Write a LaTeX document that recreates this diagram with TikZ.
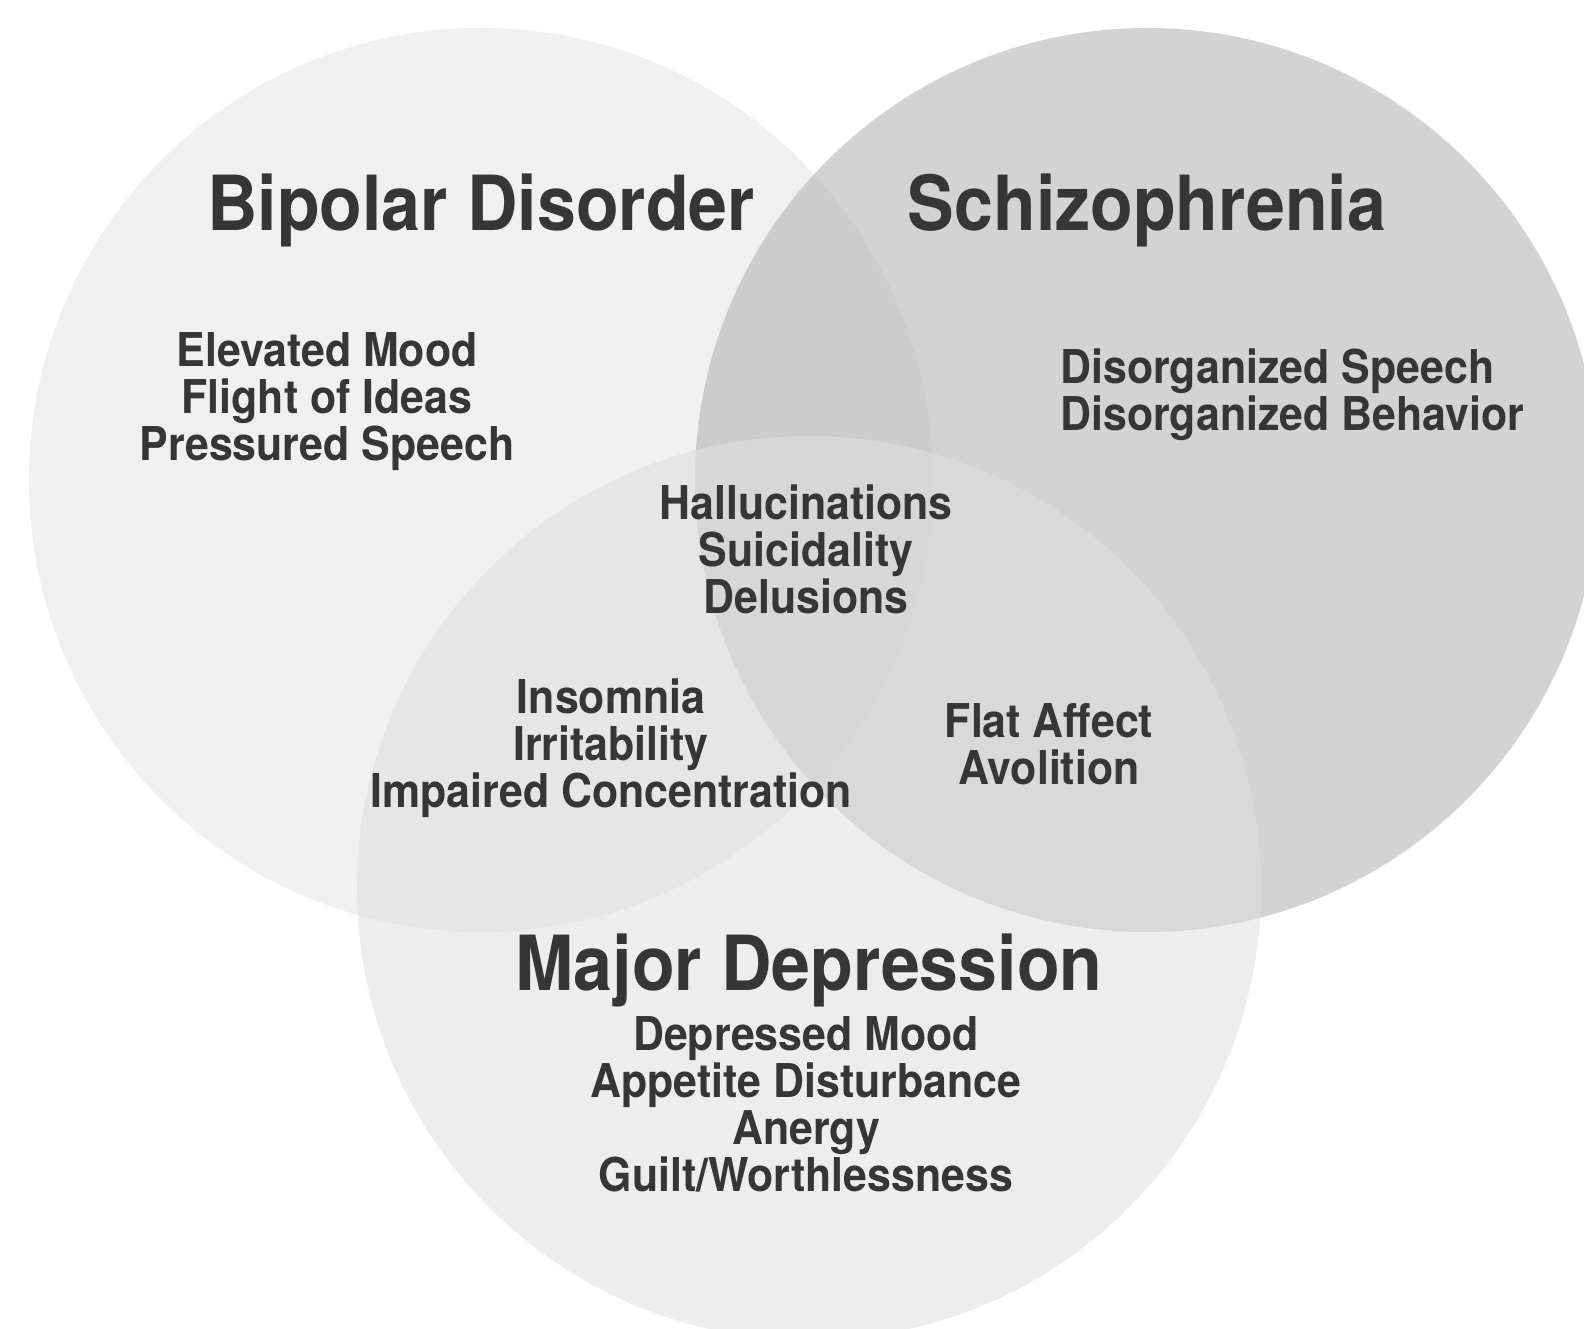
\documentclass[tikz,border=0pt]{standalone}
\usepackage{fontspec}
\newfontfamily\vennfont{TeX Gyre Heros}[FakeStretch=0.92]
\definecolor{vtext}{HTML}{363636}
\definecolor{bipfill}{HTML}{F0F0F0}
\definecolor{schfill}{HTML}{B7B7B7}
\definecolor{depfill}{HTML}{DFDFDF}
\tikzset{
	ttl/.style={text=vtext, inner sep=0pt, font=\vennfont\bfseries\fontsize{38}{38}\selectfont},
	sym/.style={text=vtext, inner sep=0pt, align=center, font=\vennfont\bfseries\fontsize{23.3}{23.5}\selectfont}
}

\begin{document}
\begin{tikzpicture}[x=0.5pt, y=0.5pt]
	\useasboundingbox (0,0) rectangle (1584,1328);
	\fill[white] (0,0) rectangle (1584,1328);
	% the three circles
	\fill[bipfill] (481,848) circle[radius=452];
	\fill[schfill, fill opacity=0.6] (1147,848) circle[radius=452];
	\fill[depfill, fill opacity=0.56] (809,440) circle[radius=452];
	% titles
	\node[ttl] (bip) at (481,1118) {Bipolar Disorder};
	\node[ttl] (sch) at (1147,1118) {Schizophrenia};
	\node[ttl] (dep) at (809,358) {Major Depression};
	% symptoms
	\node[sym] (bipsym) at (327,926.5) {Elevated Mood\\Flight of Ideas\\Pressured Speech};
	\node[sym, align=left, anchor=west] (schsym) at (1060,933) {Disorganized Speech\\Disorganized Behavior};
	\node[sym] (core) at (806,779) {Hallucinations\\Suicidality\\Delusions};
	\node[sym] (bipdep) at (611,579.5) {Insomnia\\Irritability\\Impaired Concentration};
	\node[sym] (schdep) at (1049,584) {Flat Affect\\Avolition};
	\node[sym] (depsym) at (806,223.5) {Depressed Mood\\Appetite Disturbance\\Anergy\\Guilt/Worthlessness};
\end{tikzpicture}
\end{document}
